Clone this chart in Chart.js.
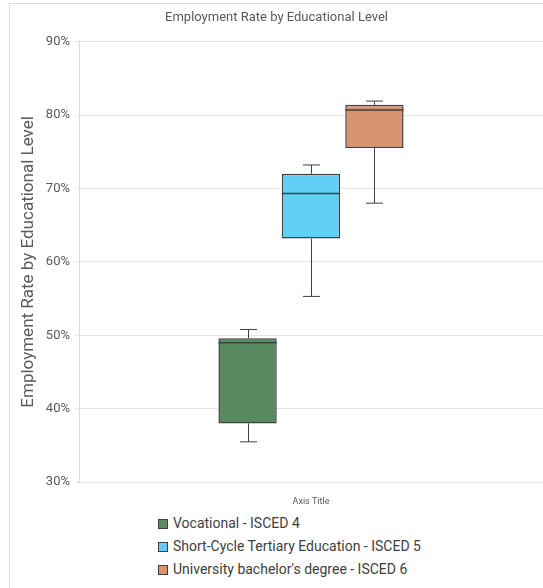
<!DOCTYPE html>
<html>
<head>
<meta charset="utf-8">
<script src="https://cdn.jsdelivr.net/npm/chart.js@4.4.1/dist/chart.umd.min.js"></script>
<style>
  html, body { margin: 0; padding: 0; background: #fff; }
  #frame {
    position: absolute; left: 9px; top: 3px; width: 534px; height: 585px;
    border-left: 1px solid #d9d9d9; border-top: 1px solid #d9d9d9;
  }
  #wrap { position: absolute; left: 0; top: 0; width: 543px; height: 511px; }
  #legend {
    position: absolute; left: 158px; top: 512px;
    font-family: Roboto, "Open Sans", sans-serif; font-size: 14px; color: #404040;
  }
  .item { height: 23px; line-height: 23px; display: flex; align-items: center; }
  .swatch { width: 8px; height: 8px; border: 1px solid #404040; margin-right: 5px; }
</style>
</head>
<body>
<div id="frame"></div>
<div id="wrap"><canvas id="chart"></canvas></div>
<div id="legend"></div>
<script>
// Employment rate (%) five-number summaries per education level
const seriesNames = [
  "Vocational - ISCED 4",
  "Short-Cycle Tertiary Education - ISCED 5",
  "University bachelor's degree - ISCED 6"
];
const mins    = [35.5, 55.3, 68.0];
const q1s     = [38.0, 63.2, 75.5];
const medians = [49.0, 69.3, 80.7];
const q3s     = [49.6, 72.0, 81.4];
const maxs    = [50.8, 73.2, 81.9];
const colors  = ["#5a8a62", "#64cff5", "#d9936f"];
const yTicks  = [30, 40, 50, 60, 70, 80, 90];

const datasets = seriesNames.map((name, i) => ({
  label: name,
  data: [[q1s[i], q3s[i]]],
  backgroundColor: colors[i],
  borderColor: "#404040",
  borderWidth: 1.5,
  borderSkipped: false,
  categoryPercentage: 0.41,
  barPercentage: 0.92
}));

// Median line and whiskers drawn on top of the floating bars
const whiskers = {
  id: "whiskers",
  afterDatasetsDraw(chart) {
    const ctx = chart.ctx;
    const y = chart.scales.y;
    ctx.save();
    ctx.strokeStyle = "#404040";
    chart.data.datasets.forEach((ds, i) => {
      const bar = chart.getDatasetMeta(i).data[0];
      const x = Math.round(bar.x) + 0.5;
      const half = bar.width / 2;
      const cap = 8.5;
      const yMed = y.getPixelForValue(medians[i]);
      const yQ1 = y.getPixelForValue(q1s[i]);
      const yQ3 = y.getPixelForValue(q3s[i]);
      const yMin = y.getPixelForValue(mins[i]);
      const yMax = y.getPixelForValue(maxs[i]);
      ctx.lineWidth = 1.5;
      ctx.beginPath();
      ctx.moveTo(bar.x - half, yMed); ctx.lineTo(bar.x + half, yMed);
      ctx.stroke();
      ctx.lineWidth = 1;
      ctx.beginPath();
      ctx.moveTo(x, yQ3); ctx.lineTo(x, yMax);
      ctx.moveTo(x, yQ1); ctx.lineTo(x, yMin);
      ctx.moveTo(x - cap, yMax); ctx.lineTo(x + cap, yMax);
      ctx.moveTo(x - cap, yMin); ctx.lineTo(x + cap, yMin);
      ctx.stroke();
    });
    ctx.restore();
  }
};

new Chart(document.getElementById("chart"), {
  type: "bar",
  data: { labels: [""], datasets },
  plugins: [whiskers],
  options: {
    responsive: true,
    maintainAspectRatio: false,
    animation: false,
    layout: { padding: { left: 10, right: 0, top: 0, bottom: 0 } },
    plugins: {
      legend: { display: false },
      tooltip: { enabled: false },
      title: {
        display: true,
        text: "Employment Rate by Educational Level",
        color: "#595959",
        font: { family: "Roboto", size: 13, weight: "normal" },
        padding: { top: 10, bottom: 16 }
      }
    },
    scales: {
      x: {
        grid: { display: false },
        border: { display: false },
        ticks: { display: false },
        title: {
          display: true, text: "Axis Title", color: "#595959",
          font: { family: "Roboto", size: 9 }, padding: { top: 6, bottom: 4 }
        }
      },
      y: {
        min: 30, max: 90,
        afterBuildTicks(scale) { scale.ticks = yTicks.map(v => ({ value: v })); },
        afterFit(scale) { scale.width = 69; },
        grid: { color: "#e4e4e4", tickLength: 4 },
        border: { color: "#d9d9d9" },
        ticks: {
          color: "#595959", padding: 5,
          font: { family: "Roboto", size: 13 },
          callback: v => v + "%"
        },
        title: {
          display: true, text: "Employment Rate by Educational Level",
          color: "#595959", font: { family: "Roboto", size: 17 },
          padding: { top: 9, bottom: 4 }
        }
      }
    }
  }
});

// Legend list under the chart
const legend = document.getElementById("legend");
seriesNames.forEach((name, i) => {
  const row = document.createElement("div");
  row.className = "item";
  const sw = document.createElement("span");
  sw.className = "swatch";
  sw.style.background = colors[i];
  const txt = document.createElement("span");
  txt.textContent = name;
  row.appendChild(sw); row.appendChild(txt);
  legend.appendChild(row);
});
</script>
</body>
</html>
